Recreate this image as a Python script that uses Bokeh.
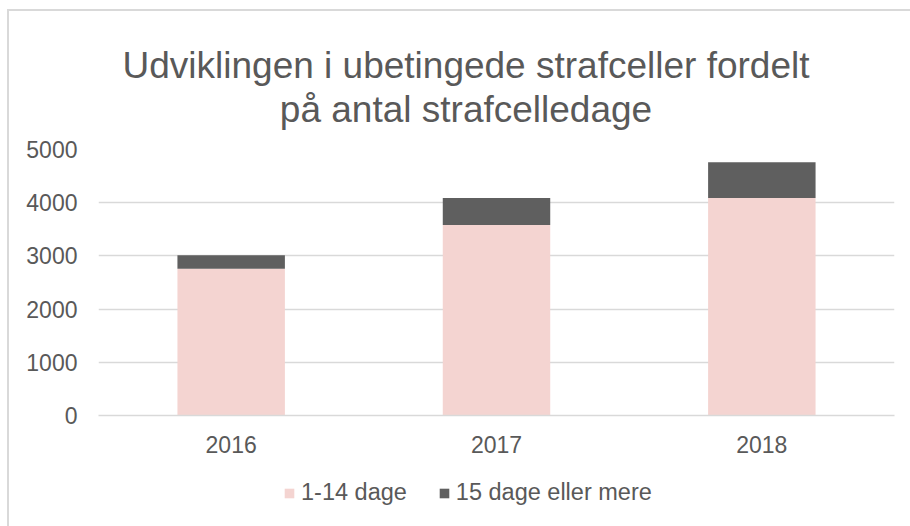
from bokeh.plotting import figure
from bokeh.layouts import column
from bokeh.models import Legend, LegendItem, Range1d, FactorRange, SingleIntervalTicker
from bokeh.embed import file_html
from bokeh.resources import INLINE

years = ["2016", "2017", "2018"]
short = [2760, 3580, 4090]     # 1-14 dage
long_ = [250, 510, 670]        # 15 dage eller mere
series = ["short", "long_"]
labels = ["1-14 dage", "15 dage eller mere"]
colors = ["#f4d4d1", "#5f5f5f"]
title_lines = ["Udviklingen i ubetingede strafceller fordelt", "på antal strafcelledage"]

FONT = "Liberation Sans"
GREY = "#595959"
W = 901

# ---- title strip (pixel-like ranges: x = page px, y = page px from top)
tf = figure(width=W, height=124, output_backend="svg", toolbar_location=None,
            min_border=0, x_range=Range1d(98, 894), y_range=Range1d(135, 11))
tf.axis.visible = False
tf.grid.visible = False
tf.outline_line_color = None
tf.text(x=[465.5, 465.5], y=[65, 109], text=title_lines, text_align="center",
        text_baseline="alphabetic", text_font={"value": FONT}, text_font_size="37px",
        text_color=GREY)

# ---- main chart
p = figure(x_range=FactorRange(*years), y_range=Range1d(0, 5000),
           width=W, height=336, output_backend="svg", toolbar_location=None,
           min_border_left=89, min_border_right=16, min_border_top=14, min_border_bottom=56)

src = dict(years=years, short=short, long_=long_)
p.vbar_stack(series, x="years", width=0.405, color=colors, source=src, line_color=None)

p.outline_line_color = None
p.xgrid.grid_line_color = None
p.ygrid.grid_line_color = "#d9d9d9"
p.ygrid.grid_line_width = 1.5
p.yaxis.ticker = SingleIntervalTicker(interval=1000)
p.yaxis.axis_line_color = None
p.yaxis.major_tick_line_color = None
p.yaxis.minor_tick_line_color = None
p.xaxis.axis_line_color = "#d9d9d9"
p.xaxis.axis_line_width = 1.5
p.xaxis.major_tick_line_color = None
p.xaxis.minor_tick_line_color = None
for ax in (p.xaxis, p.yaxis):
    ax.major_label_text_font = FONT
    ax.major_label_text_font_size = "23px"
    ax.major_label_text_color = GREY
p.yaxis.major_label_standoff = 15
p.xaxis.major_label_standoff = 14
p.x_range.range_padding = 0

# ---- legend strip
lg = figure(width=W, height=55, output_backend="svg", toolbar_location=None,
            min_border=0, x_range=Range1d(0, 1), y_range=Range1d(0, 1))
lg.axis.visible = False
lg.grid.visible = False
lg.outline_line_color = None
dummies = [lg.vbar(x=[-10], top=[-10], bottom=[-10], width=0.1, color=c, line_color=None)
           for c in colors]
lg.add_layout(Legend(items=[LegendItem(label=l, renderers=[d]) for l, d in zip(labels, dummies)],
                     orientation="horizontal", location=(185, 20),
                     label_text_font=FONT, label_text_font_size="23.5px", label_text_color=GREY,
                     glyph_width=12, glyph_height=12, label_standoff=6, spacing=31,
                     border_line_color=None, background_fill_alpha=0, margin=0, padding=0),
              "center")

layout = column(tf, p, lg, spacing=0)
layout.styles = {"margin-left": "7px", "margin-top": "9px",
                 "border-left": "2px solid #d9d9d9", "border-top": "2px solid #d9d9d9"}

open("out.html", "w").write(file_html(layout, INLINE))
